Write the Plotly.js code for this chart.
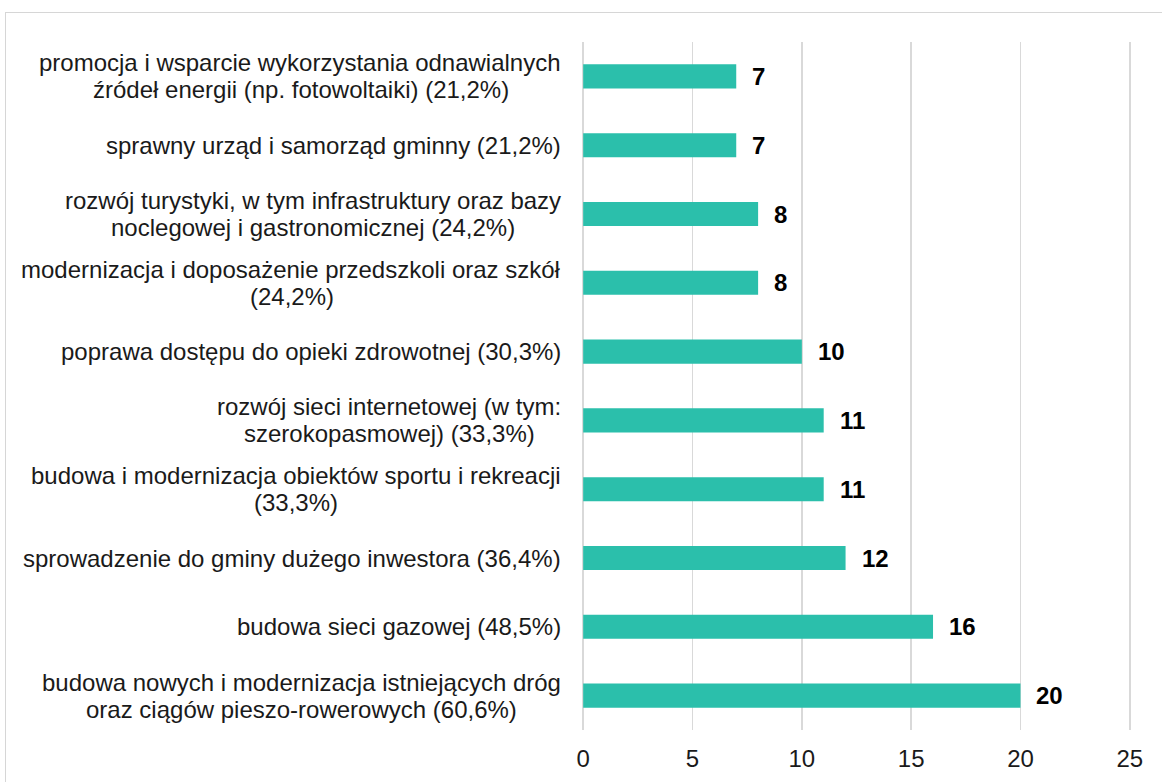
<!DOCTYPE html>
<html>
<head>
<meta charset="utf-8">
<script src="https://cdn.plot.ly/plotly-3.0.1.min.js"></script>
<style>
  html, body { margin: 0; padding: 0; background: #ffffff; }
  #frame { position: absolute; left: 5px; top: 12px; width: 1200px; height: 800px;
           border-left: 1px solid #d6d6d6; border-top: 1px solid #d6d6d6; }
  #chart { position: absolute; left: 0; top: 0; width: 1162px; height: 782px; }
</style>
</head>
<body>
<div id="frame"></div>
<div id="chart"></div>
<script>
// Categories, top to bottom as shown
const categories = [
  "promocja i wsparcie wykorzystania odnawialnych\nźródeł energii (np. fotowoltaiki) (21,2%)",
  "sprawny urząd i samorząd gminny (21,2%)",
  "rozwój turystyki, w tym infrastruktury oraz bazy\nnoclegowej i gastronomicznej (24,2%)",
  "modernizacja i doposażenie przedszkoli oraz szkół\n(24,2%)",
  "poprawa dostępu do opieki zdrowotnej (30,3%)",
  "rozwój sieci internetowej (w tym:\nszerokopasmowej) (33,3%)",
  "budowa i modernizacja obiektów sportu i rekreacji\n(33,3%)",
  "sprowadzenie do gminy dużego inwestora (36,4%)",
  "budowa sieci gazowej (48,5%)",
  "budowa nowych i modernizacja istniejących dróg\noraz ciągów pieszo-rowerowych (60,6%)"
];
const values = [7, 7, 8, 8, 10, 11, 11, 12, 16, 20];
const xTicks = [0, 5, 10, 15, 20, 25];

const FONT = '"Liberation Sans", Arial, sans-serif';
const LABEL_SIZE = 24;
const LINE_H = 27;

const canvas = document.createElement('canvas');
const ctx = canvas.getContext('2d');
ctx.font = LABEL_SIZE + 'px "Liberation Sans"';

const annotations = [];
categories.forEach((cat, ci) => {
  const lines = cat.split('\n');
  const widths = lines.map(l => ctx.measureText(l).width);
  const maxW = Math.max(...widths);
  lines.forEach((line, li) => {
    annotations.push({
      x: 0, xref: 'x', y: ci, yref: 'y',
      text: line, showarrow: false,
      xanchor: 'right', yanchor: 'middle',
      xshift: -20 - (maxW - widths[li]) / 2,
      yshift: ((lines.length - 1) / 2 - li) * LINE_H,
      font: { family: FONT, size: LABEL_SIZE, color: '#1a1a1a' }
    });
  });
});
values.forEach((v, i) => {
  annotations.push({
    x: v, xref: 'x', y: i, yref: 'y',
    text: '<b>' + v + '</b>', showarrow: false,
    xanchor: 'left', yanchor: 'middle', xshift: 14,
    font: { family: FONT, size: 24, color: '#000000' }
  });
});

const trace = {
  type: 'bar', orientation: 'h',
  x: values, y: categories.map((c, i) => i),
  marker: { color: '#2bbfab', line: { width: 0 } },
  hoverinfo: 'none'
};

const layout = {
  width: 1162, height: 782,
  margin: { l: 581, r: 30, t: 42, b: 52, pad: 0 },
  paper_bgcolor: 'rgba(0,0,0,0)', plot_bgcolor: 'rgba(0,0,0,0)',
  bargap: 0.65,
  showlegend: false,
  xaxis: {
    range: [-0.1, 25.1], tickvals: xTicks, ticktext: xTicks.map(String),
    showgrid: true, gridcolor: '#d9d9d9', gridwidth: 1.5,
    zeroline: false, showline: false, ticks: '',
    ticklabelstandoff: 12,
    tickfont: { family: FONT, size: 24, color: '#1a1a1a' },
    fixedrange: true
  },
  yaxis: {
    autorange: false, range: [categories.length - 0.5, -0.5],
    type: 'linear', showticklabels: false, showgrid: false,
    zeroline: false, showline: false, ticks: '', fixedrange: true
  },
  annotations: annotations
};

Plotly.newPlot('chart', [trace], layout, { displayModeBar: false, staticPlot: true });
</script>
</body>
</html>
